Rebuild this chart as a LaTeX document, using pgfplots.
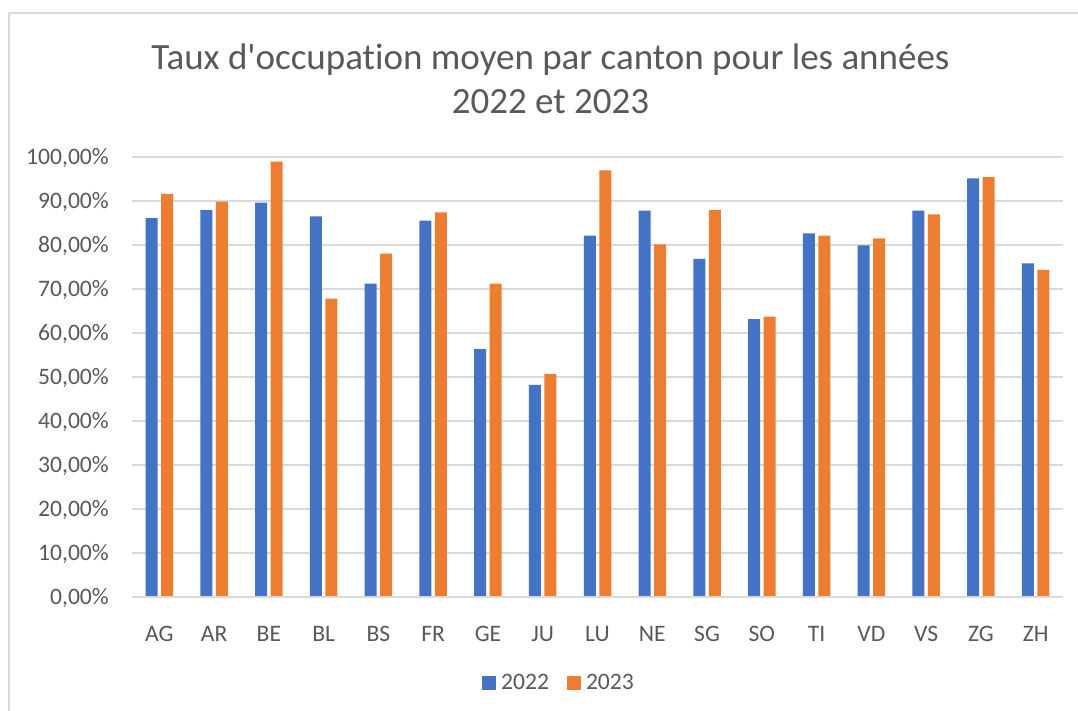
\documentclass[border=0pt]{standalone}
\usepackage{pgfplots}
\pgfplotsset{compat=1.18}
\usepackage{fontspec}
\setmainfont{Carlito}[RawFeature={-liga;-dlig}]
\definecolor{cblue}{HTML}{4472C4}
\definecolor{corange}{HTML}{ED7D31}
\definecolor{cgrid}{HTML}{D9D9D9}
\definecolor{ctext}{HTML}{595959}
\newcommand{\apos}{\XeTeXglyph\XeTeXcharglyph"0027\relax}
\begin{document}
\begin{tikzpicture}[x=1pt,y=1pt]
\useasboundingbox (0,0) rectangle (1078,711);
\fill[white] (0,0) rectangle (1078,711);
\draw[cgrid, line width=2pt] (8.5,0) -- (8.5,698) -- (1078,698);
\node[anchor=base, text=ctext, font=\fontsize{37}{44}\selectfont, inner sep=0pt] at (550.5,641.7) {Taux d\apos occupat\kern0pt ion moyen par canton pour les années};
\node[anchor=base, text=ctext, font=\fontsize{37}{44}\selectfont, inner sep=0pt] at (550.5,597.5) {2022 et 2023};
\begin{axis}[
  at={(132pt,113.7pt)}, anchor=south west,
  scale only axis, width=931pt, height=440pt,
  ybar=3.5pt, bar width=12pt,
  xmin=-0.5, xmax=16.5, ymin=0, ymax=100,
  xtick=data,
  xticklabels={AG,AR,BE,BL,BS,FR,GE,JU,LU,NE,SG,SO,TI,VD,VS,ZG,ZH},
  ytick={0,10,...,100},
  yticklabels={{0,00\%},{10,00\%},{20,00\%},{30,00\%},{40,00\%},{50,00\%},{60,00\%},{70,00\%},{80,00\%},{90,00\%},{100,00\%}},
  ymajorgrids, grid style={cgrid, line width=1.8pt},
  axis line style={draw=none},
  axis x line*=bottom,
  major tick style={draw=none},
  tick label style={text=ctext, font=\fontsize{23.6}{28}\selectfont, inner sep=0pt},
  yticklabel style={anchor=base east, xshift=-23pt, yshift=-7.5pt},
  xticklabel style={anchor=base, yshift=-40pt},
  legend columns=2,
  legend style={draw=none, at={(0.4576,-0.1948)}, anchor=center,
    font=\fontsize{23.6}{28}\selectfont, text=ctext,
    column sep=5pt,
    /tikz/every even column/.append style={column sep=18pt},
    nodes={inner sep=0pt}},
  legend image code/.code={\fill[#1] (0pt,-7pt) rectangle (14pt,7pt);},
  clip=false,
]
\addplot[fill=cblue, draw=none] coordinates {
(0,86.2) (1,88.0) (2,89.7) (3,86.6) (4,71.3) (5,85.6) (6,56.4) (7,48.3) (8,82.2) (9,87.9) (10,76.9) (11,63.2) (12,82.7) (13,80.0) (14,87.9) (15,95.2) (16,75.9)};
\addplot[fill=corange, draw=none] coordinates {
(0,91.7) (1,89.9) (2,99.0) (3,67.9) (4,78.1) (5,87.5) (6,71.3) (7,50.8) (8,97.0) (9,80.2) (10,88.0) (11,63.8) (12,82.2) (13,81.6) (14,87.0) (15,95.5) (16,74.4)};
\draw[cgrid, line width=1.8pt] (rel axis cs:0,0) -- (rel axis cs:1,0);
\legend{2022,2023}
\end{axis}
\end{tikzpicture}
\end{document}
